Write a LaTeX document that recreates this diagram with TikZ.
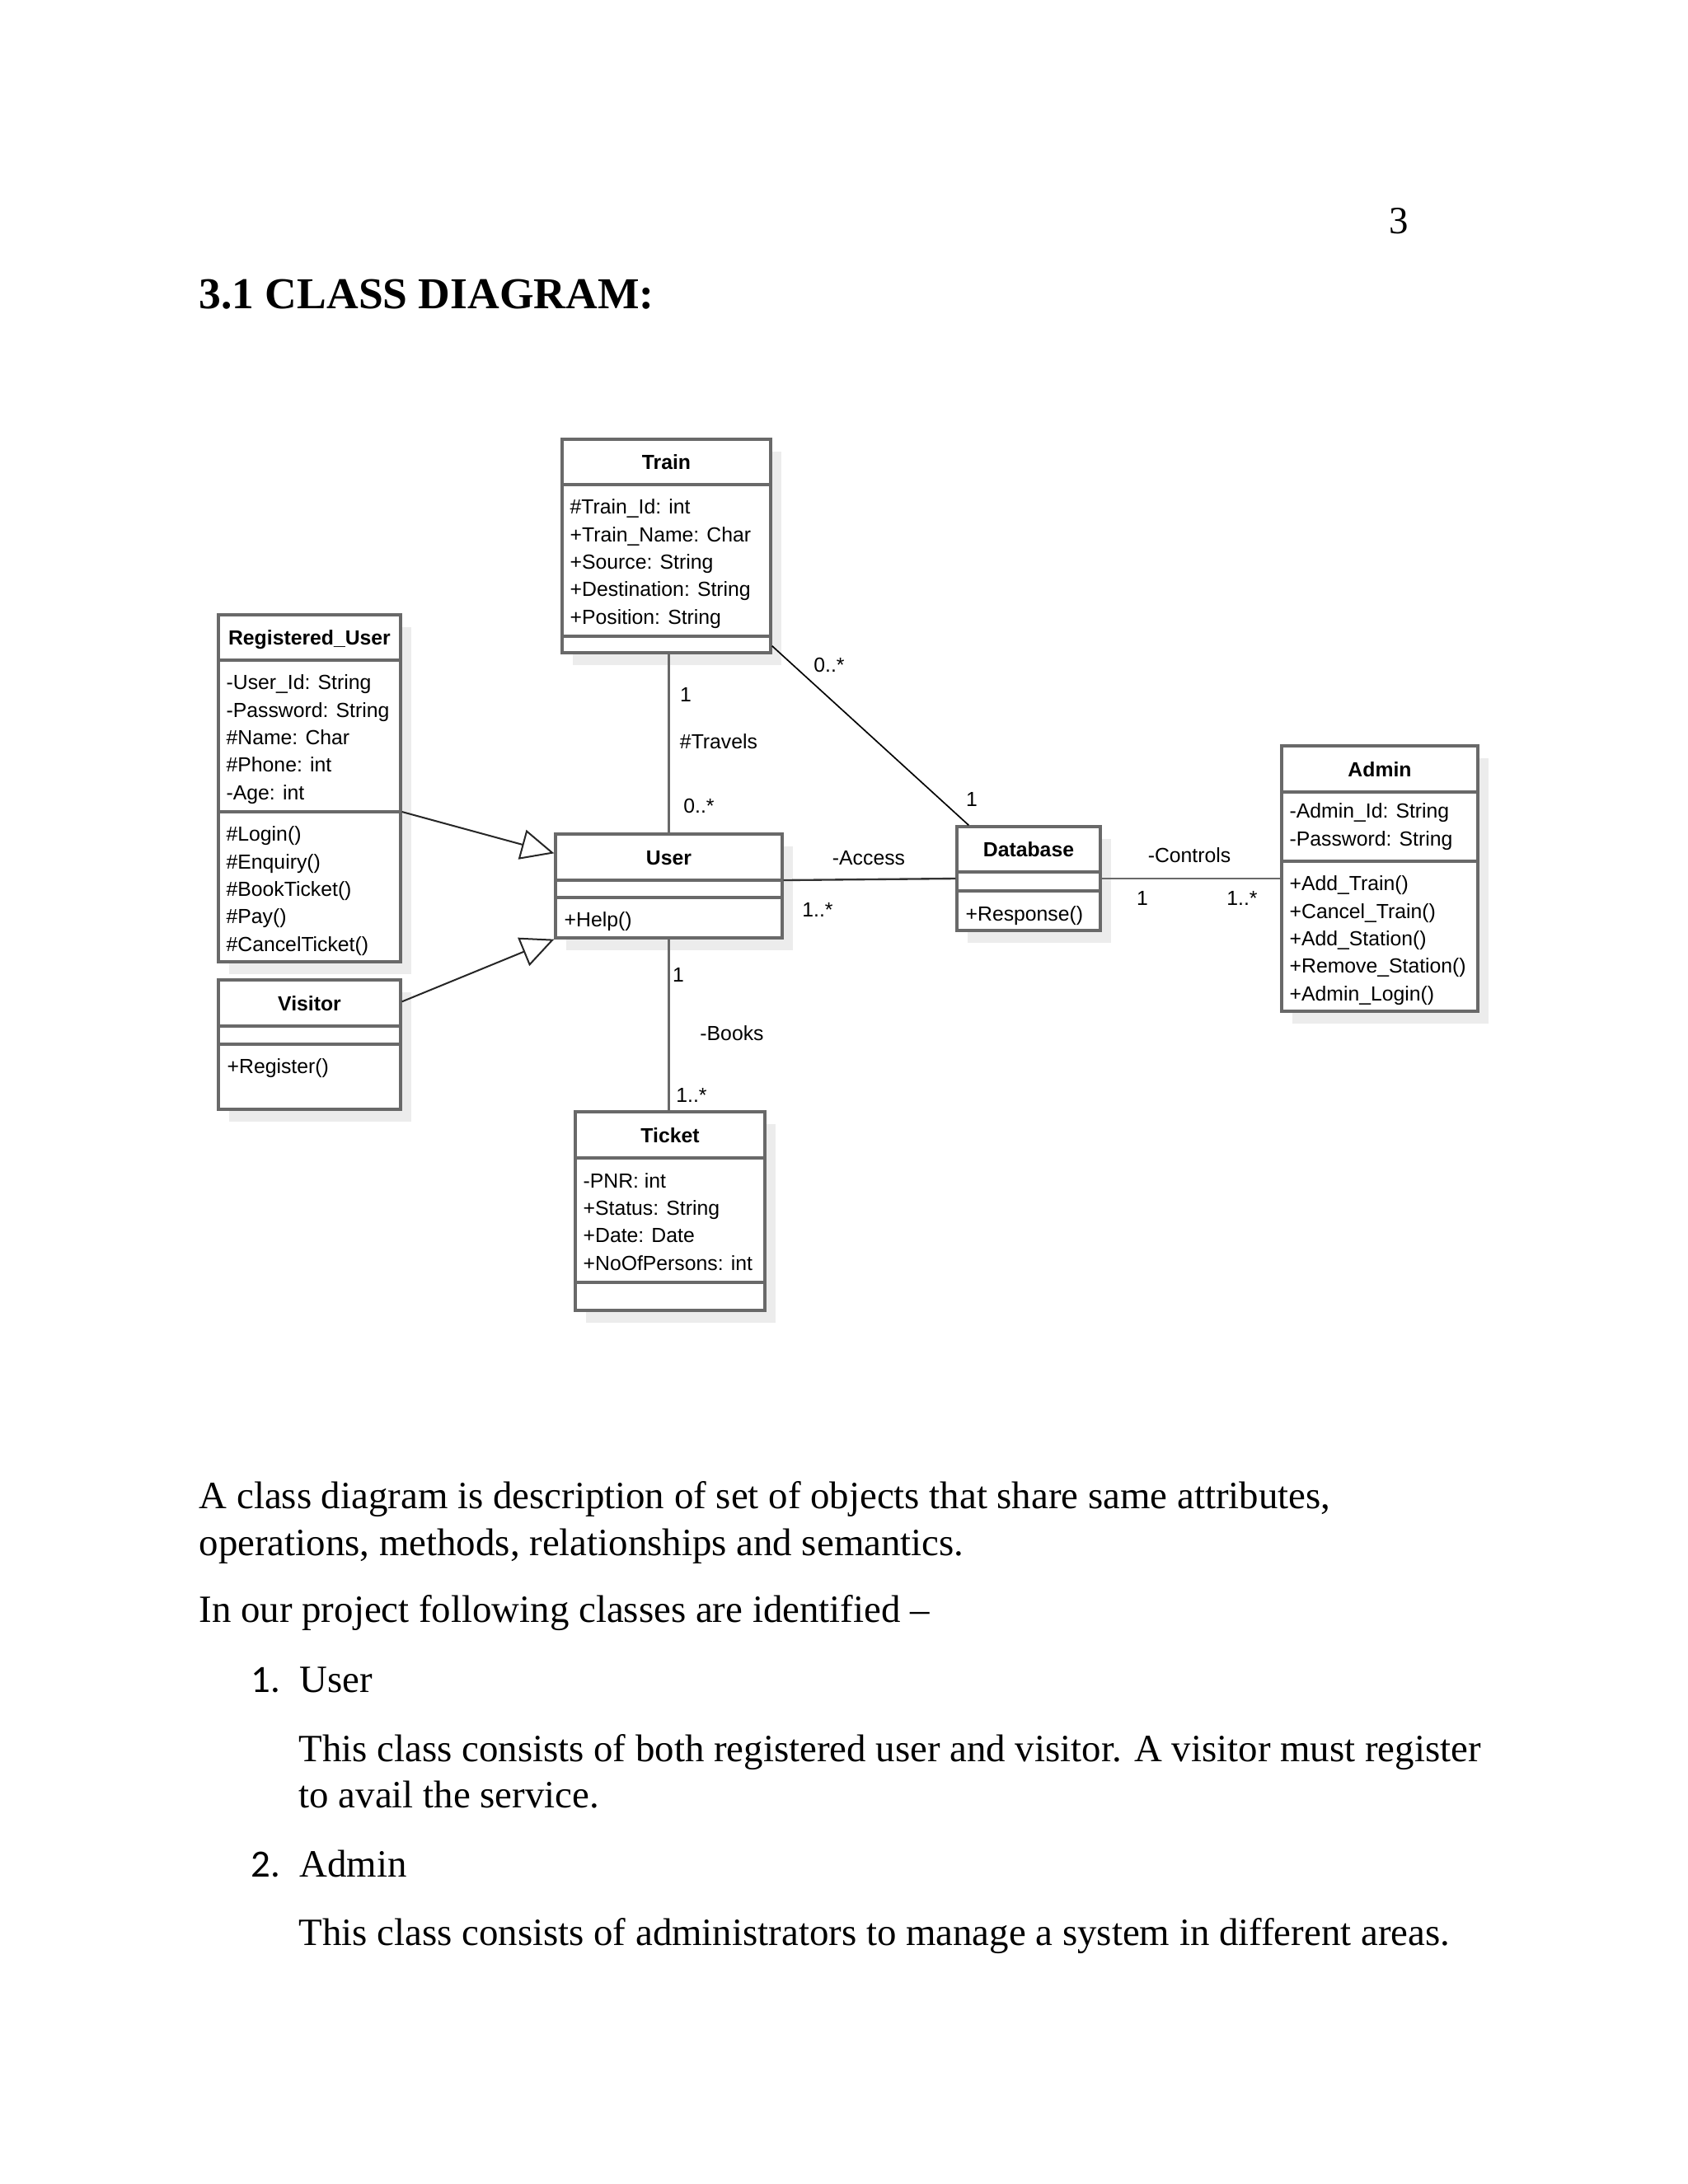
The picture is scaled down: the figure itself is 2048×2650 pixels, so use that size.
\documentclass[tikz,border=0pt]{standalone}
\usepackage{fontspec}
\setmainfont{Liberation Serif}
\setsansfont{Liberation Sans}
\newfontfamily\listnumfont{Carlito}
\usetikzlibrary{arrows.meta,calc}
\definecolor{umlgray}{RGB}{105,105,105}
\definecolor{umlshadow}{RGB}{236,236,236}

% class box: name, left, top, right, bottom, first divider, second divider, title
\newcommand{\umlclass}[8]{%
    \fill[umlshadow] (#2+13,#3+15) rectangle (#4+13,#5+15);
    \node[classbox, minimum width={(#4-#2)*0.298828pt}, minimum height={(#5-#3)*0.298828pt}] (#1) at ({(#2+#4)/2},{(#3+#5)/2}) {};
    \coordinate (#1-a) at (#2,#6);
    \coordinate (#1-b) at (#2,#7);
    \draw[classline] (#1-a) -- (#4,#6);
    \draw[classline] (#1-b) -- (#4,#7);
    \node[classname] (#1-title) at ({(#2+#4)/2},{(#3+#6)/2+9}) {#8};
}

\begin{document}
\begin{tikzpicture}[x=0.298828pt, y=-0.298828pt,
    classbox/.style={draw=umlgray, line width=1pt, fill=white, inner sep=0pt},
    classline/.style={draw=umlgray, line width=1pt},
    classname/.style={font=\sffamily\bfseries\fontsize{7.4}{9.95}\selectfont, anchor=base, inner sep=0pt},
    member/.style={font=\sffamily\fontsize{7.4}{9.95}\selectfont, anchor=base west, align=left, inner sep=0pt},
    assoc/.style={draw=umlgray, line width=0.7pt},
    inherit/.style={draw=black!85, line width=0.6pt, -{Triangle[open, length=12pt, width=11pt]}},
    mult/.style={font=\sffamily\fontsize{7.4}{9}\selectfont, inner sep=0pt},
    body/.style={font=\fontsize{14}{17}\selectfont, anchor=base west, align=left, inner sep=0pt}]

    \fill[white] (0,0) rectangle (2048,2650);
    \useasboundingbox (0,0) rectangle (2048,2650);

    \node[body, anchor=base] (pagenum) at (1697,283) {3};
    \node[body, font=\bfseries\fontsize{16}{19}\selectfont] (heading) at (241,374) {3.1 CLASS DIAGRAM:};

    % classes (member lists are placed by their last baseline)
    \umlclass{train}{682}{533}{935}{792}{588}{772}{Train}
    \node[member] (train-attr) at (691,757) {\#Train\_Id: int\\+Train\_Name: Char\\+Source: String\\+Destination: String\\+Position: String};

    \umlclass{reguser}{265}{746}{486}{1167}{801}{985}{Registered\_User}
    \node[member] (reguser-attr) at (274,970) {-User\_Id: String\\-Password: String\\\#Name: Char\\\#Phone: int\\-Age: int};
    \node[member] (reguser-ops) at (274,1154) {\#Login()\\\#Enquiry()\\\#BookTicket()\\\#Pay()\\\#CancelTicket()};

    \umlclass{visitor}{265}{1189}{486}{1346}{1245}{1267}{Visitor}
    \node[member] (visitor-ops) at (275,1302) {+Register()};

    \umlclass{user}{674}{1012}{949}{1138}{1068}{1089}{User}
    \node[member] (user-ops) at (684,1124) {+Help()};

    \umlclass{database}{1161}{1003}{1335}{1129}{1058}{1081}{Database}
    \node[member] (database-ops) at (1171,1117) {+Response()};

    \umlclass{admin}{1555}{905}{1793}{1227}{961}{1045}{Admin}
    \node[member] (admin-attr) at (1564,1026) {-Admin\_Id: String\\-Password: String};
    \node[member] (admin-ops) at (1564,1214) {+Add\_Train()\\+Cancel\_Train()\\+Add\_Station()\\+Remove\_Station()\\+Admin\_Login()};

    \umlclass{ticket}{698}{1349}{928}{1590}{1405}{1556}{Ticket}
    \node[member] (ticket-attr) at (707,1541) {-PNR: int\\+Status: String\\+Date: Date\\+NoOfPersons: int};

    % associations
    \draw[assoc] (user.north |- train.south) -- (user.north);
    \draw[assoc] (user.south) -- (user.south |- ticket.north);
    \draw[assoc, draw=black!80] (user-a -| user.east) -- (database.west);
    \draw[assoc] (database.east) -- (admin.west |- database.east);
    \draw[line width=0.5pt] ($(train.south east)+(0,-10)$) -- ($(database.north west)+(16,0)$);

    % generalisations
    \draw[inherit] (reguser-b -| reguser.east) -- ($(user.north west)+(0,25)$);
    \draw[inherit] ($(visitor.north east)+(0,28)$) -- (user.south west);

    % labels
    \node[mult] (travels-1) at (832,843) {1};
    \node[mult] (travels-name) at (872,900) {\#Travels};
    \node[mult] (travels-0) at (848,978) {0..*};
    \node[mult] (link-0) at (1006,807) {0..*};
    \node[mult] (link-1) at (1179,970) {1};
    \node[mult] (access-name) at (1054,1041) {-Access};
    \node[mult] (access-m) at (992,1104) {1..*};
    \node[mult] (controls-name) at (1443,1038) {-Controls};
    \node[mult] (controls-1) at (1386,1090) {1};
    \node[mult] (controls-m) at (1507,1090) {1..*};
    \node[mult] (books-1) at (823,1183) {1};
    \node[mult] (books-name) at (888,1254) {-Books};
    \node[mult] (books-m) at (839,1329) {1..*};

    % text below the diagram
    \node[body] (intro) at (241,1887) {A class diagram is description of set of objects that share same attributes,\\operations, methods, relationships and semantics.};
    \node[body] (listintro) at (241,1968) {In our project following classes are identified --};
    \node[body, font=\listnumfont\fontsize{14}{17}\selectfont] (item1num) at (304,2053) {1.};
    \node[body] (item1) at (363,2053) {User};
    \node[body, font=\fontsize{14}{16.7}\selectfont] (item1text) at (362,2193) {This class consists of both registered user and visitor. A visitor must register\\to avail the service.};
    \node[body, font=\listnumfont\fontsize{14}{17}\selectfont] (item2num) at (304,2277) {2.};
    \node[body] (item2) at (363,2277) {Admin};
    \node[body] (item2text) at (362,2360) {This class consists of administrators to manage a system in different areas.};
\end{tikzpicture}
\end{document}
